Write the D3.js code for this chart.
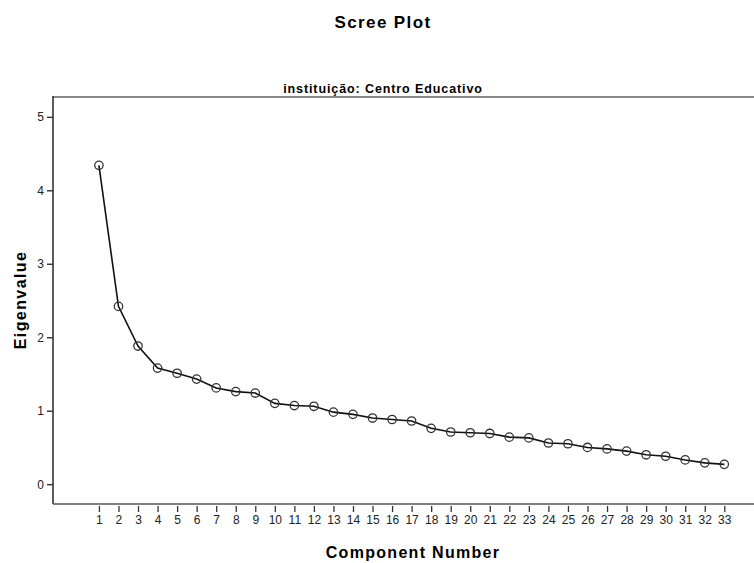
<!DOCTYPE html>
<html>
<head>
<meta charset="utf-8">
<script src="https://cdnjs.cloudflare.com/ajax/libs/d3/7.8.5/d3.min.js"></script>
<style>
	body { margin:0; background:#fff; overflow:hidden; }
	svg { display:block; font-family: Arial, "Liberation Sans", sans-serif; }
</style>
</head>
<body>
<svg id="chart" width="754" height="563"></svg>
<script>
// component numbers and eigenvalues
const components = d3.range(1, 34);
const eigenvalues = [4.34, 2.42, 1.88, 1.58, 1.51, 1.43, 1.31, 1.26, 1.24, 1.10,
	1.07, 1.06, 0.98, 0.95, 0.90, 0.88, 0.86, 0.76, 0.71, 0.70,
	0.69, 0.64, 0.63, 0.56, 0.55, 0.50, 0.48, 0.45, 0.40, 0.38,
	0.33, 0.29, 0.27];
const yTicks = [0, 1, 2, 3, 4, 5];
const chartTitle = "Scree Plot";
const panelTitle = "instituição: Centro Educativo";
const xTitle = "Component Number";
const yTitle = "Eigenvalue";

const screePlot = (svg_name) => {
	let chart = d3.select(svg_name);
	let margin = {left:53,right:754,top:97,bottom:504};
	let x = d3.scaleLinear().domain([-1.35, 34.52]).range([margin.left, 754]);
	let y = d3.scaleLinear().domain([-0.27, 5.27]).range([margin.bottom, margin.top]);
	let data = components.map((c,i) => ({comp:c, value:eigenvalues[i]}));

	addTitles(chart, margin);
	addFrame(chart, margin);
	addYAxis(chart, y, margin);
	addXAxis(chart, x, margin);
	addLine(chart, data, x, y);
}

const addTitles = (chart, margin) => {
	chart.append("text")
		.attr("x", 383).attr("y", 28)
		.style("text-anchor","middle").style("font-weight","bold")
		.style("font-size","17px").style("letter-spacing","1.4px")
		.text(chartTitle);
	chart.append("text")
		.attr("x", 383).attr("y", margin.top - 4)
		.style("text-anchor","middle").style("font-weight","bold")
		.style("font-size","12.5px").style("letter-spacing","0.9px")
		.text(panelTitle);
	chart.append("text")
		.attr("x", 413).attr("y", 558)
		.style("text-anchor","middle").style("font-weight","bold")
		.style("font-size","16px").style("letter-spacing","1.3px")
		.text(xTitle);
	chart.append("text")
		.attr("transform","rotate(-90)")
		.attr("x", -300).attr("y", 26)
		.style("text-anchor","middle").style("font-weight","bold")
		.style("font-size","16px").style("letter-spacing","1.4px")
		.text(yTitle);
}

// only the top edge of the panel is drawn; left and bottom come from the axes
const addFrame = (chart, margin) => {
	chart.append("path")
		.attr("d", `M${margin.left},${margin.top}H${margin.right}`)
		.attr("fill","none")
		.attr("stroke","#888").attr("stroke-width",2);
}

const addYAxis = (chart, y, margin) => {
	let y_axis = d3.axisLeft(y).tickValues(yTicks).tickFormat(d3.format("d"))
		.tickSize(6).tickPadding(3).tickSizeOuter(0);
	let g = chart.append("g")
		.attr("transform", `translate(${margin.left},0)`)
		.call(y_axis);
	g.select(".domain").remove();
	g.append("path").attr("d", `M0,${margin.top - 1}V${margin.bottom}`)
		.attr("fill","none").attr("stroke","#333").attr("stroke-width",1.6);
	g.selectAll(".tick line").attr("stroke","#333").attr("stroke-width",1.4);
	g.selectAll(".tick text").style("font-size","12px").style("font-family","Arial, 'Liberation Sans', sans-serif").attr("fill","#222");
}

const addXAxis = (chart, x, margin) => {
	let x_axis = d3.axisBottom(x).tickValues(components).tickSize(6).tickPadding(5).tickSizeOuter(0);
	let g = chart.append("g")
		.attr("transform", `translate(0,${margin.bottom})`)
		.call(x_axis);
	g.select(".domain").remove();
	g.append("path").attr("d", `M${margin.left},0H${margin.right}`)
		.attr("fill","none").attr("stroke","#555").attr("stroke-width",1.6);
	g.selectAll(".tick line").attr("y1",2).attr("y2",8).attr("stroke","#333").attr("stroke-width",1.3);
	g.selectAll(".tick text").style("font-size","12px").style("font-family","Arial, 'Liberation Sans', sans-serif").attr("fill","#222");
}

const addLine = (chart, data, x, y) => {
	let line = d3.line().x((d) => x(d.comp)).y((d) => y(d.value));
	chart.append("path")
		.datum(data)
		.attr("d", line)
		.attr("fill","none").attr("stroke","#111").attr("stroke-width",1.6);
	chart.append("g").selectAll("circle")
		.data(data)
		.enter()
		.append("circle")
			.attr("cx", (d) => x(d.comp))
			.attr("cy", (d) => y(d.value))
			.attr("r", 4.2)
			.attr("fill","none").attr("stroke","#333").attr("stroke-width",1.3);
}

screePlot("#chart");
</script>
</body>
</html>
